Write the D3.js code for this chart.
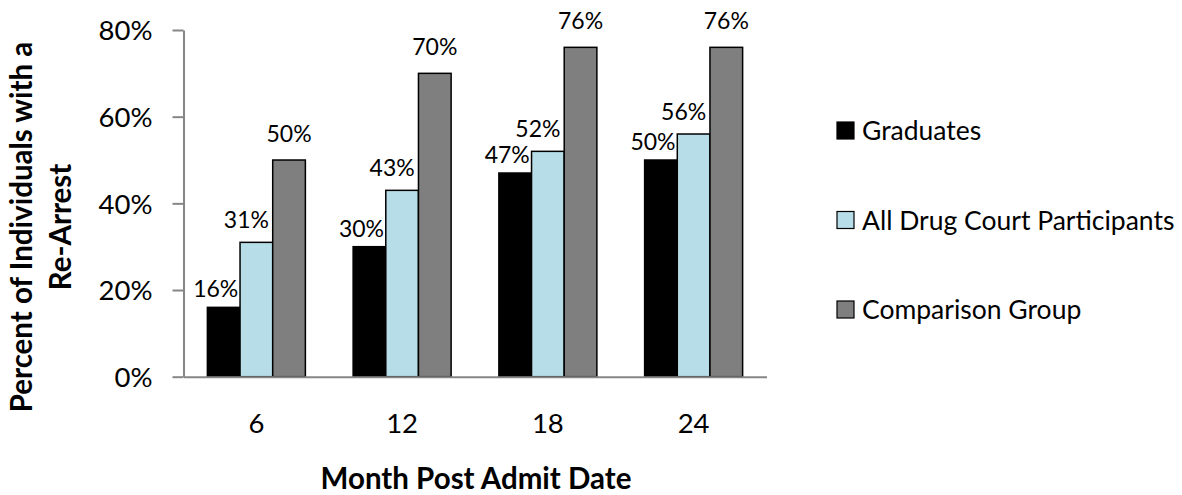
<!DOCTYPE html>
<html>
<head>
<meta charset="utf-8">
<script src="https://cdn.jsdelivr.net/npm/d3@7/dist/d3.min.js"></script>
<style>
  html, body { margin: 0; padding: 0; background: #fff; }
  svg { display: block; font-family: Lato, "Open Sans", sans-serif; }
</style>
</head>
<body>
<svg id="chart" width="1182" height="495"></svg>
<script>
// Re-arrest rates by months since admission
const months = ["6", "12", "18", "24"];
const seriesNames = ["Graduates", "All Drug Court Participants", "Comparison Group"];
const graduates = [16, 30, 47, 50];
const participants = [31, 43, 52, 56];
const comparison = [50, 70, 76, 76];
const yTicks = [0, 20, 40, 60, 80];

const seriesValues = [graduates, participants, comparison];
const colors = ["#000000", "#B7DEE8", "#7F7F7F"];
// per-series label nudges (Excel-style outside-end labels)
const labelDx = [-8, -10, 0];
const labelDy = [-10, -14, -18];

const svg = d3.select("#chart");
const axisColor = "#868686";

const plot = { left: 183.5, right: 766.5, top: 30, bottom: 376.7 };

const x = d3.scaleBand().domain(months).range([plot.left, plot.right]).paddingInner(0).paddingOuter(0);
const groupW = 98;
const xs = d3.scaleBand().domain(d3.range(seriesNames.length))
  .range([(x.bandwidth() - groupW) / 2, (x.bandwidth() + groupW) / 2]);
const y = d3.scaleLinear().domain([0, 80]).range([plot.bottom, plot.top]);

// bars
const rows = [];
seriesValues.forEach((vals, s) => vals.forEach((v, i) => rows.push({ s, m: months[i], v })));

svg.append("g").selectAll("rect").data(rows).join("rect")
  .attr("x", d => x(d.m) + xs(d.s))
  .attr("y", d => y(d.v))
  .attr("width", xs.bandwidth())
  .attr("height", d => y(0) - y(d.v))
  .attr("fill", d => colors[d.s])
  .attr("stroke", "#000")
  .attr("stroke-width", 1.5);

// value labels
svg.append("g").selectAll("text").data(rows).join("text")
  .attr("x", d => x(d.m) + xs(d.s) + xs.bandwidth() / 2 + labelDx[d.s])
  .attr("y", d => y(d.v) + labelDy[d.s])
  .attr("text-anchor", "middle")
  .attr("font-size", 23)
  .attr("fill", "#000")
  .text(d => d.v + "%");

// y axis
const yAxis = svg.append("g")
  .attr("transform", `translate(${plot.left},0)`)
  .call(d3.axisLeft(y).tickValues(yTicks).tickFormat(d => d + "%").tickSize(11).tickSizeOuter(0).tickPadding(20));
yAxis.select(".domain").attr("stroke", axisColor).attr("stroke-width", 2);
yAxis.selectAll(".tick line").attr("stroke", axisColor).attr("stroke-width", 2);
yAxis.selectAll(".tick text").attr("font-size", 27.5).attr("fill", "#000")
  .attr("font-family", "Lato, sans-serif").attr("dy", "0.36em");

// x axis
const xAxis = svg.append("g")
  .attr("transform", `translate(0,${plot.bottom})`)
  .call(d3.axisBottom(x).tickSize(0).tickSizeOuter(0).tickPadding(0));
xAxis.select(".domain").attr("stroke", axisColor).attr("stroke-width", 2);
xAxis.selectAll(".tick text").attr("font-size", 27.5).attr("fill", "#000")
  .attr("font-family", "Lato, sans-serif").attr("dy", null).attr("y", 56);

// axis titles
svg.append("text")
  .attr("x", (plot.left + plot.right) / 2 + 1)
  .attr("y", 489)
  .attr("text-anchor", "middle")
  .attr("font-size", 29.5)
  .attr("font-weight", "bold")
  .text("Month Post Admit Date");

const yTitle = svg.append("text")
  .attr("transform", "translate(0,227) rotate(-90)")
  .attr("text-anchor", "middle")
  .attr("font-size", 29.5)
  .attr("font-weight", "bold");
yTitle.append("tspan").attr("x", 0).attr("y", 32).text("Percent of Individuals with a");
yTitle.append("tspan").attr("x", 0).attr("y", 71).text("Re-Arrest");

// legend
const legend = svg.append("g").selectAll("g").data(seriesNames).join("g")
  .attr("transform", (d, i) => `translate(837,${130.5 + i * 89.5})`);
legend.append("rect")
  .attr("x", 0).attr("y", -8.5).attr("width", 17).attr("height", 17)
  .attr("fill", (d, i) => colors[i])
  .attr("stroke", "#000").attr("stroke-width", 1.2);
legend.append("text")
  .attr("x", 25).attr("y", 0).attr("dy", "0.36em")
  .attr("font-size", 26.5)
  .text(d => d);
</script>
</body>
</html>
